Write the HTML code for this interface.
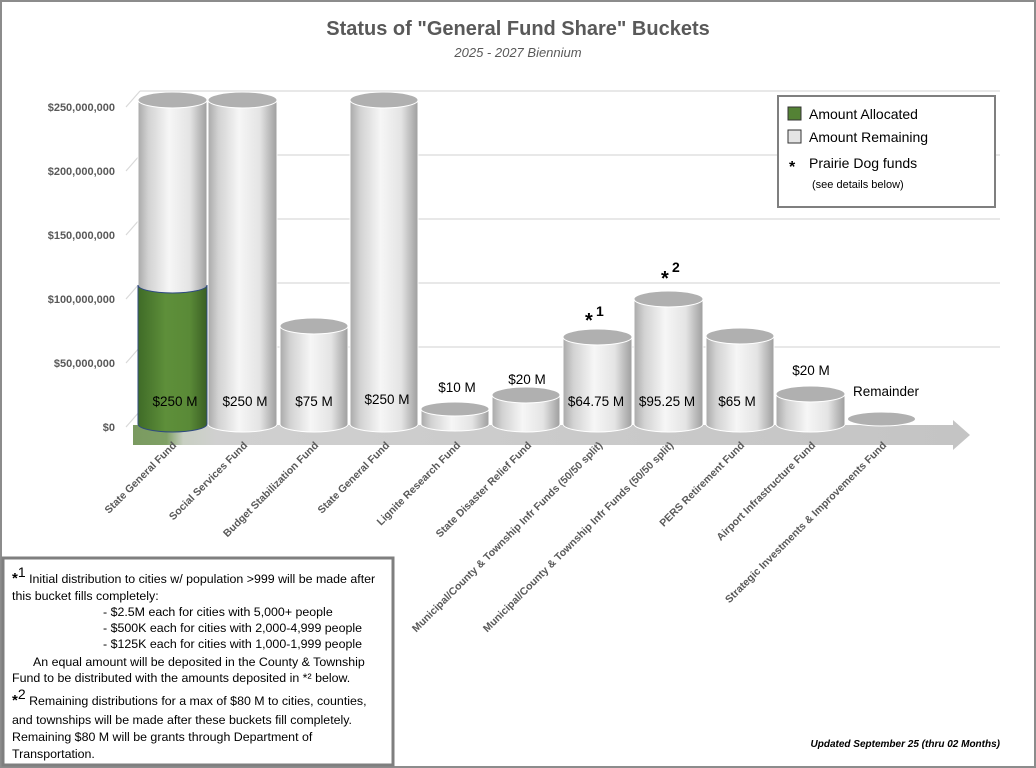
<!DOCTYPE html>
<html><head><meta charset="utf-8"><style>
body{margin:0;background:#fff;}
svg{display:block;font-family:"Liberation Sans",sans-serif;}
</style></head><body>
<svg width="1036" height="768" viewBox="0 0 1036 768" xmlns="http://www.w3.org/2000/svg">
<defs>
<linearGradient id="cyl" x1="0" x2="1" y1="0" y2="0">
<stop offset="0" stop-color="#a9a9a9"/><stop offset="0.15" stop-color="#d2d2d2"/><stop offset="0.45" stop-color="#f6f6f6"/><stop offset="0.75" stop-color="#e4e4e4"/><stop offset="1" stop-color="#9e9e9e"/>
</linearGradient>
<linearGradient id="grn" x1="0" x2="1" y1="0" y2="0">
<stop offset="0" stop-color="#3f6b27"/><stop offset="0.4" stop-color="#5e8f3a"/><stop offset="0.75" stop-color="#5a8a37"/><stop offset="1" stop-color="#3a5f24"/>
</linearGradient>
<linearGradient id="bar" x1="0" x2="1" y1="0" y2="0">
<stop offset="0" stop-color="#7a9a60"/><stop offset="0.04" stop-color="#7fa065"/><stop offset="0.06" stop-color="#c8cfc2"/><stop offset="0.1" stop-color="#d0d0d0"/><stop offset="1" stop-color="#c4c4c4"/>
</linearGradient>
</defs>
<rect x="1" y="1" width="1034" height="766" fill="#fff" stroke="#8c8c8c" stroke-width="2"/>
<text x="518" y="35" text-anchor="middle" font-size="20" font-weight="bold" fill="#595959">Status of "General Fund Share" Buckets</text>
<text x="518" y="57" text-anchor="middle" font-size="13" font-style="italic" fill="#595959">2025 - 2027 Biennium</text>
<g stroke="#d9d9d9" stroke-width="1.2">
<line x1="140" y1="91" x2="1000" y2="91"/><line x1="140" y1="155" x2="1000" y2="155"/><line x1="140" y1="219" x2="1000" y2="219"/><line x1="140" y1="283" x2="1000" y2="283"/><line x1="140" y1="347" x2="1000" y2="347"/>
<line x1="126" y1="107" x2="140" y2="91"/><line x1="126" y1="171" x2="140" y2="155"/><line x1="126" y1="235" x2="140" y2="219"/><line x1="126" y1="299" x2="140" y2="283"/><line x1="126" y1="363" x2="140" y2="347"/><line x1="126" y1="427" x2="140" y2="411"/>
</g>
<g font-size="11" font-weight="bold" fill="#595959" text-anchor="end">
<text x="115" y="111">$250,000,000</text><text x="115" y="175">$200,000,000</text><text x="115" y="239">$150,000,000</text><text x="115" y="303">$100,000,000</text><text x="115" y="367">$50,000,000</text><text x="115" y="431">$0</text>
</g>
<path d="M133 425 H953 V420 L970 435 L953 450 V445 H133 Z" fill="url(#bar)"/>
<g stroke="#fff" stroke-width="1">
<path d="M138 100 V285 A34.5 8 0 0 0 207 285 V100 Z" fill="url(#cyl)"/>
<path d="M138 285 A34.5 8 0 0 0 207 285 V424 A34.5 8 0 0 1 138 424 Z" fill="url(#grn)" stroke="#2f4a80"/>
<ellipse cx="172.5" cy="100" rx="34.5" ry="8" fill="#b0b0b0"/>
<path d="M208 100 V424 A34.5 8 0 0 0 277 424 V100 Z" fill="url(#cyl)"/><ellipse cx="242.5" cy="100" rx="34.5" ry="8" fill="#b0b0b0"/>
<path d="M280 326 V424 A34 8 0 0 0 348 424 V326 Z" fill="url(#cyl)"/><ellipse cx="314" cy="326" rx="34" ry="8" fill="#b0b0b0"/>
<path d="M350 100 V424 A34 8 0 0 0 418 424 V100 Z" fill="url(#cyl)"/><ellipse cx="384" cy="100" rx="34" ry="8" fill="#b0b0b0"/>
<path d="M421 409 V424 A34 7 0 0 0 489 424 V409 Z" fill="url(#cyl)"/><ellipse cx="455" cy="409" rx="34" ry="7" fill="#b0b0b0"/>
<path d="M492 395 V424 A34 8 0 0 0 560 424 V395 Z" fill="url(#cyl)"/><ellipse cx="526" cy="395" rx="34" ry="8" fill="#b0b0b0"/>
<path d="M563 337 V424 A34.5 8 0 0 0 632 424 V337 Z" fill="url(#cyl)"/><ellipse cx="597.5" cy="337" rx="34.5" ry="8" fill="#b0b0b0"/>
<path d="M634 299 V424 A34.5 8 0 0 0 703 424 V299 Z" fill="url(#cyl)"/><ellipse cx="668.5" cy="299" rx="34.5" ry="8" fill="#b0b0b0"/>
<path d="M706 336 V424 A34 8 0 0 0 774 424 V336 Z" fill="url(#cyl)"/><ellipse cx="740" cy="336" rx="34" ry="8" fill="#b0b0b0"/>
<path d="M776 394 V424 A34.5 8 0 0 0 845 424 V394 Z" fill="url(#cyl)"/><ellipse cx="810.5" cy="394" rx="34.5" ry="8" fill="#b0b0b0"/>
<ellipse cx="881.5" cy="419" rx="34" ry="7" fill="#b0b0b0"/>
</g>
<g font-size="13.5" fill="#000" text-anchor="middle">
<text x="175" y="406">$250 M</text><text x="245" y="406">$250 M</text><text x="314" y="406">$75 M</text><text x="387" y="404">$250 M</text>
<text x="457" y="392">$10 M</text><text x="527" y="384">$20 M</text><text x="596" y="406">$64.75 M</text><text x="667" y="406">$95.25 M</text><text x="737" y="406">$65 M</text><text x="811" y="375">$20 M</text><text x="886" y="396">Remainder</text>
</g>
<text x="585" y="327" font-size="20" font-weight="bold">*</text><text x="596" y="316" font-size="14" font-weight="bold">1</text>
<text x="661" y="285" font-size="20" font-weight="bold">*</text><text x="672" y="272" font-size="14" font-weight="bold">2</text>
<g font-size="10.5" font-weight="bold" fill="#595959" text-anchor="end">
<text transform="translate(177,446) rotate(-45)">State General Fund</text>
<text transform="translate(248,446) rotate(-45)">Social Services Fund</text>
<text transform="translate(319,446) rotate(-45)">Budget Stabilization Fund</text>
<text transform="translate(390,446) rotate(-45)">State General Fund</text>
<text transform="translate(461,446) rotate(-45)">Lignite Research Fund</text>
<text transform="translate(532,446) rotate(-45)">State Disaster Relief Fund</text>
<text transform="translate(603,446) rotate(-45)">Municipal/County &amp; Township Infr Funds (50/50 split)</text>
<text transform="translate(674,446) rotate(-45)">Municipal/County &amp; Township Infr Funds (50/50 split)</text>
<text transform="translate(745,446) rotate(-45)">PERS Retirement Fund</text>
<text transform="translate(816,446) rotate(-45)">Airport Infrastructure Fund</text>
<text transform="translate(887,446) rotate(-45)">Strategic Investments &amp; Improvements Fund</text>
</g>
<rect x="778" y="96" width="217" height="111" fill="#fff" stroke="#7f7f7f" stroke-width="2"/>
<rect x="788" y="107" width="13" height="13" fill="#548235" stroke="#333"/>
<text x="809" y="119" font-size="14">Amount Allocated</text>
<rect x="788" y="130" width="13" height="13" fill="#e4e4e4" stroke="#333"/>
<text x="809" y="142" font-size="14">Amount Remaining</text>
<text x="789" y="172" font-size="16" font-weight="bold">*</text>
<text x="809" y="168" font-size="14">Prairie Dog funds</text>
<text x="812" y="188" font-size="11">(see details below)</text>
<rect x="3" y="558" width="390" height="207" fill="#fff" stroke="#7f7f7f" stroke-width="3"/>
<g font-size="12.4" fill="#000">
<text x="12" y="583"><tspan font-size="15" font-weight="bold">*</tspan><tspan font-size="14" dy="-6">1</tspan><tspan dy="6"> Initial distribution to cities w/ population &gt;999 will be made after</tspan></text>
<text x="12" y="600">this bucket fills completely:</text>
<text x="103" y="616">- $2.5M each for cities with 5,000+ people</text>
<text x="103" y="632">- $500K each for cities with 2,000-4,999 people</text>
<text x="103" y="648">- $125K each for cities with 1,000-1,999 people</text>
<text x="33" y="666">An equal amount will be deposited in the County &amp; Township</text>
<text x="12" y="682">Fund to be distributed with the amounts deposited in *² below.</text>
<text x="12" y="705"><tspan font-size="15" font-weight="bold">*</tspan><tspan font-size="14" dy="-6">2</tspan><tspan dy="6">  Remaining distributions for a max of $80 M to cities, counties,</tspan></text>
<text x="12" y="724">and townships will be made after these buckets fill completely.</text>
<text x="12" y="741">Remaining $80 M will be grants through Department of</text>
<text x="12" y="758">Transportation.</text>
</g>
<text x="1000" y="747" text-anchor="end" font-size="10" font-weight="bold" font-style="italic">Updated September 25 (thru 02 Months)</text>
</svg>
</body></html>
